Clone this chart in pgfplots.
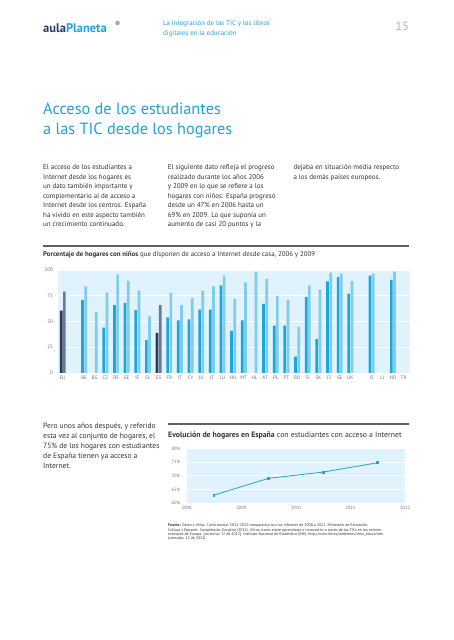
\documentclass[border=0pt]{standalone}
\usepackage{fontspec}
\setmainfont{PT Sans}
\usepackage{pgfplots}
\pgfplotsset{compat=1.18}
\definecolor{cyanT}{HTML}{22A2D8}
\definecolor{navy}{HTML}{283A5E}
\definecolor{slate}{HTML}{6B7895}
\definecolor{bar6}{HTML}{1DA6D8}
\definecolor{bar9}{HTML}{7FCDEB}
\definecolor{bgblue}{HTML}{E0F2FB}
\definecolor{txt}{HTML}{333333}
\definecolor{linec}{HTML}{26A3C6}
\newcommand{\fs}[1]{\fontsize{#1}{#1}\selectfont}
\newcommand{\tl}[4]{\node[anchor=base west,inner sep=0pt,font=#3,text=txt] at (#1,#2) {#4};}
\begin{document}
\begin{tikzpicture}
\fill[white] (0pt,0pt) rectangle (453pt,640pt);
\path[use as bounding box] (0pt,0pt) rectangle (453pt,640pt);
\begin{scope}[shift={(0pt,640pt)},x=1pt,y=-1pt]
% header
\node[anchor=base west,inner sep=0pt,font=\bfseries\fs{12.5}] at (43,33) {\textcolor{navy}{aula}\textcolor{cyanT}{Planeta}};
\fill[gray!70] (117.5,23) circle (2.3);
\node[anchor=base west,inner sep=0pt,font=\fs{6.9},text=cyanT] at (163,26) {La integración de las TIC y los libros};
\node[anchor=base west,inner sep=0pt,font=\fs{6.9},text=cyanT] at (163,35.5) {digitales en la educación};
\node[anchor=base east,inner sep=0pt,font=\fs{12},text=gray!60] at (409,31) {15};
% title
\node[anchor=base west,inner sep=0pt,font=\fs{16.3},text=cyanT] at (43,115) {Acceso de los estudiantes};
\node[anchor=base west,inner sep=0pt,font=\fs{16.3},text=cyanT] at (43,135) {a las TIC desde los hogares};
% body columns
\foreach \t [count=\i from 0] in {El acceso de los estudiantes a,Internet desde los hogares es,un dato también importante y,complementario al de acceso a,Internet desde los centros. España,ha vivido en este aspecto también,un crecimiento continuado.}
  {\tl{43}{169.5+9.55*\i}{\fs{7}}{\t}}
\foreach \t [count=\i from 0] in {El siguiente dato refleja el progreso,realizado durante los años 2006,y 2009 en lo que se refiere a los,hogares con niños: España progresó,desde un 47\% en 2006 hasta un,69\% en 2009. Lo que suponía un,aumento de casi 20 puntos y la}
  {\tl{167.7}{169.5+9.55*\i}{\fs{7}}{\t}}
\foreach \t [count=\i from 0] in {dejaba en situación media respecto,a los demás países europeos.}
  {\tl{293.3}{169.5+9.55*\i}{\fs{7}}{\t}}
% bar chart title
\draw[gray!75!black,line width=1.2pt] (43,246) -- (409,246);
\tl{43}{256.5}{\fs{6.9}}{\textbf{Porcentaje de hogares con niños} que disponen de acceso a Internet desde casa, 2006 y 2009}
% bottom paragraph
\foreach \t [count=\i from 0] in {{Pero unos años después, y referido},{esta vez al conjunto de hogares, el},75\% de los hogares con estudiantes,de España tienen ya acceso a,Internet.}
  {\tl{43}{428.2+10.2*\i}{\fs{7.6}}{\t}}
% line chart title
\draw[gray!75!black,line width=1.2pt] (168,424) -- (409,424);
\tl{168}{437.5}{\fs{7.8}}{\textbf{Evolución de hogares en España} con estudiantes con acceso a Internet}
% source
\tl{168}{527}{\fs{3.9}}{\textbf{Fuente:} Datos y cifras. Curso escolar 2012-2013 comparativa con los informes de 2008 a 2011. Ministerio de Educación,}
\tl{168}{531.3}{\fs{3.9}}{Cultura y Deporte. Completado: Eurydice (2011). Cifras claves sobre aprendizaje e innovación a través de las TICs en los centros}
\tl{168}{535.6}{\fs{3.9}}{escolares de Europa. [consulta: 12 de 2012]. Instituto Nacional de Estadística (INE): http://www.ine.es/inebmenu/mnu\_educa.htm}
\tl{168}{539.9}{\fs{3.9}}{(consulta: 12 de 2012).}
\end{scope}

% bar chart
\begin{axis}[
  at={(58.3pt,267pt)}, anchor=south west,
  scale only axis, width=351.7pt, height=103pt,
  xmin=-0.42, xmax=32.6, ymin=0, ymax=100,
  ytick={0,25,50,75,100},
  xtick={0,2,3,4,5,6,7,8,9,10,11,12,13,14,15,16,17,18,19,20,21,22,23,24,25,26,27,29,30,31,32},
  xticklabels={EU,BE,BG,CZ,DE,EE,IE,EL,ES,FR,IT,CY,LV,LT,LU,HU,MT,NL,AT,PL,PT,RO,SI,SK,FI,SE,UK,IS,LI,NO,TR},
  axis background/.style={fill=bgblue},
  axis line style={draw=none},
  major tick length=0pt,
  ymajorgrids, grid style={white,line width=0.8pt},
  tick label style={font=\fs{5},text=gray!90!black},
  yticklabel style={xshift=-2pt},
  xticklabel style={yshift=1pt},
  /pgf/number format/assume math mode=true,
  ybar, bar width=2.7pt,
]
\addplot[draw=none,fill=bar6,bar shift=-1.6pt] coordinates {
(2,71) (4,44) (5,66) (6,68) (7,61) (8,32) (10,54) (11,51) (12,52) (13,61.5) (14,61.5) (15,85) (16,41) (17,51) (19,67) (20,46) (21,46) (22,16) (23,74) (24,33) (25,89) (26,93) (27,77) (29,94.5) (31,90.5)};
\addplot[draw=none,fill=bar9,bar shift=1.6pt] coordinates {
(2,84) (3,59) (4,78) (5,95.5) (6,89.5) (7,80) (8,55) (10,78) (11,66) (12,73) (13,80) (14,84) (15,94.5) (16,72) (17,88) (18,98.5) (19,91.5) (20,75) (21,71) (22,45) (23,85) (24,81) (25,97.5) (26,96.5) (27,89.5) (29,96.5) (31,98.5)};
\addplot[draw=none,fill=navy,bar shift=-1.6pt] coordinates {(0,60.5) (9,39)};
\addplot[draw=none,fill=slate,bar shift=1.6pt] coordinates {(0,79) (9,66)};
\end{axis}

% line chart
\begin{axis}[
  at={(186.7pt,136.7pt)}, anchor=south west,
  scale only axis, width=218.3pt, height=54.8pt,
  xmin=2008, xmax=2012, ymin=60, ymax=80,
  xtick={2008,2009,2010,2011,2012},
  ytick={60,65,70,75,80},
  yticklabel={\pgfmathprintnumber{\tick}\%},
  axis background/.style={fill=bgblue},
  axis line style={draw=none},
  major tick length=0pt,
  ymajorgrids, grid style={white,line width=0.8pt},
  tick label style={font=\fs{4.6},text=gray!90!black},
  yticklabel style={xshift=-3pt},
  xticklabel style={yshift=1pt},
  /pgf/number format/.cd, 1000 sep={}, assume math mode=true,
]
\addplot[linec,line width=0.8pt,mark=square*,mark size=0.9pt] coordinates {
(2008.5,63) (2009.5,69.1) (2010.5,71.4) (2011.5,74.8)};
\end{axis}
\end{tikzpicture}
\end{document}
